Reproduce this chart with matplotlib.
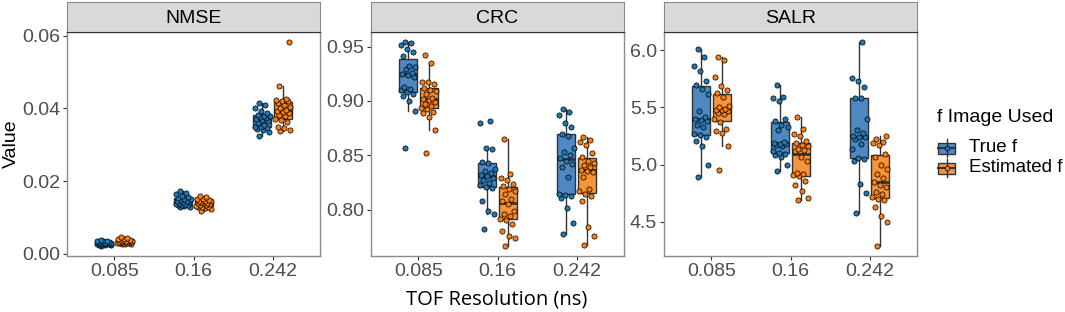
import numpy as np
import matplotlib.pyplot as plt
from matplotlib.patches import Rectangle

plt.rcParams['font.family'] = ['Liberation Sans', 'DejaVu Sans']

resolutions = ['0.085', '0.16', '0.242']
metrics = ['NMSE', 'CRC', 'SALR']
groups = ['True f', 'Estimated f']

# ---- values (one list per TOF resolution) ----
nmse_true = [
    [0.0022, 0.0023, 0.0024, 0.0025, 0.0026, 0.0026, 0.0027, 0.0027, 0.0028, 0.0028, 0.0029,
     0.0029, 0.0030, 0.0030, 0.0031, 0.0031, 0.0032, 0.0033, 0.0034, 0.0035, 0.0036, 0.0038],
    [0.0129, 0.0130, 0.0131, 0.0133, 0.0134, 0.0135, 0.0136, 0.0138, 0.0140, 0.0142, 0.0143,
     0.0145, 0.0146, 0.0148, 0.0150, 0.0152, 0.0153, 0.0155, 0.0160, 0.0165, 0.0168, 0.0174],
    [0.0323, 0.0336, 0.0340, 0.0343, 0.0345, 0.0348, 0.0350, 0.0355, 0.0360, 0.0365, 0.0368,
     0.0372, 0.0374, 0.0376, 0.0378, 0.0380, 0.0383, 0.0388, 0.0392, 0.0401, 0.0410, 0.0414],
]
nmse_est = [
    [0.0026, 0.0027, 0.0028, 0.0029, 0.0030, 0.0030, 0.0031, 0.0031, 0.0032, 0.0032, 0.0033,
     0.0033, 0.0034, 0.0034, 0.0035, 0.0036, 0.0037, 0.0038, 0.0040, 0.0042, 0.0044, 0.0046],
    [0.0117, 0.0122, 0.0125, 0.0128, 0.0129, 0.0130, 0.0131, 0.0133, 0.0135, 0.0137, 0.0139,
     0.0140, 0.0141, 0.0142, 0.0144, 0.0145, 0.0146, 0.0148, 0.0150, 0.0152, 0.0155, 0.0158],
    [0.0338, 0.0341, 0.0345, 0.0350, 0.0362, 0.0368, 0.0372, 0.0378, 0.0382, 0.0386, 0.0390,
     0.0393, 0.0396, 0.0400, 0.0405, 0.0410, 0.0416, 0.0419, 0.0421, 0.0424, 0.0426, 0.0462, 0.0582],
]
crc_true = [
    [0.857, 0.891, 0.900, 0.905, 0.906, 0.908, 0.910, 0.911, 0.913, 0.922, 0.924,
     0.925, 0.926, 0.929, 0.931, 0.932, 0.941, 0.945, 0.948, 0.951, 0.953, 0.954],
    [0.782, 0.796, 0.799, 0.808, 0.820, 0.821, 0.823, 0.825, 0.827, 0.829, 0.831,
     0.832, 0.834, 0.836, 0.838, 0.843, 0.844, 0.856, 0.857, 0.880, 0.882],
    [0.778, 0.788, 0.802, 0.811, 0.813, 0.814, 0.815, 0.830, 0.839, 0.842, 0.845,
     0.848, 0.850, 0.853, 0.857, 0.868, 0.870, 0.876, 0.880, 0.887, 0.890, 0.893],
]
crc_est = [
    [0.852, 0.873, 0.885, 0.889, 0.890, 0.893, 0.894, 0.895, 0.897, 0.899, 0.901,
     0.902, 0.903, 0.906, 0.909, 0.910, 0.912, 0.916, 0.917, 0.917, 0.935, 0.942],
    [0.767, 0.774, 0.776, 0.781, 0.787, 0.791, 0.792, 0.794, 0.796, 0.799, 0.805,
     0.808, 0.810, 0.815, 0.817, 0.819, 0.822, 0.824, 0.827, 0.829, 0.833, 0.865],
    [0.768, 0.776, 0.784, 0.808, 0.813, 0.815, 0.817, 0.819, 0.830, 0.835, 0.836,
     0.837, 0.839, 0.841, 0.843, 0.845, 0.849, 0.852, 0.860, 0.862, 0.864, 0.867],
]
salr_true = [
    [4.89, 5.00, 5.16, 5.21, 5.24, 5.26, 5.27, 5.33, 5.35, 5.38, 5.39,
     5.40, 5.42, 5.47, 5.62, 5.66, 5.70, 5.73, 5.82, 5.86, 5.94, 6.01],
    [4.94, 5.00, 5.07, 5.08, 5.09, 5.10, 5.12, 5.16, 5.17, 5.18, 5.18,
     5.19, 5.20, 5.30, 5.33, 5.35, 5.38, 5.40, 5.56, 5.58, 5.59, 5.70],
    [4.58, 4.75, 4.83, 5.03, 5.05, 5.06, 5.14, 5.18, 5.22, 5.24, 5.24,
     5.25, 5.28, 5.30, 5.40, 5.58, 5.58, 5.68, 5.73, 5.76, 6.07],
]
salr_est = [
    [4.95, 5.16, 5.28, 5.29, 5.31, 5.37, 5.40, 5.44, 5.45, 5.47, 5.48,
     5.48, 5.49, 5.50, 5.51, 5.59, 5.63, 5.65, 5.69, 5.77, 5.91, 5.94],
    [4.69, 4.71, 4.77, 4.82, 4.86, 4.90, 4.91, 4.92, 4.93, 5.03, 5.07,
     5.12, 5.13, 5.14, 5.16, 5.17, 5.19, 5.21, 5.25, 5.27, 5.31, 5.42],
    [4.29, 4.50, 4.55, 4.63, 4.69, 4.70, 4.72, 4.74, 4.76, 4.80, 4.82,
     4.85, 4.88, 4.92, 4.96, 5.00, 5.07, 5.09, 5.17, 5.19, 5.20, 5.22, 5.25],
]

panel_data = {
    'NMSE': (nmse_true, nmse_est),
    'CRC': (crc_true, crc_est),
    'SALR': (salr_true, salr_est),
}
yticks = {
    'NMSE': ([0.0, 0.02, 0.04, 0.06], '{:.2f}'),
    'CRC': ([0.80, 0.85, 0.90, 0.95], '{:.2f}'),
    'SALR': ([4.5, 5.0, 5.5, 6.0], '{:.1f}'),
}

box_colors = ['#4f88c2', '#f5963f']
point_colors = ['#1f77b4', '#ff7f0e']
offsets = [-0.13, 0.13]

W, H = 1065, 312
lefts = [67, 371, 664]
pw = 253


def jitter(n, w=0.1):
    # deterministic spread, golden ratio sequence
    return ((np.arange(n) * 0.618034 + 0.31) % 1 - 0.5) * 2 * w


fig = plt.figure(figsize=(W / 100, H / 100), dpi=100)

for k, metric in enumerate(metrics):
    ax = fig.add_axes([lefts[k] / W, 1 - 256 / H, pw / W, 224 / H])
    for g in range(2):
        data = panel_data[metric][g]
        pos = np.arange(1, 4) + offsets[g]
        ax.boxplot(data, positions=pos, widths=0.23, patch_artist=True,
                   showfliers=False, showcaps=False, manage_ticks=False,
                   boxprops=dict(facecolor=box_colors[g], edgecolor='#333333', linewidth=1),
                   whiskerprops=dict(color='#333333', linewidth=1),
                   medianprops=dict(color='#333333', linewidth=2), zorder=2)
        for i, vals in enumerate(data):
            xs = pos[i] + jitter(len(vals))
            ax.scatter(xs, vals, s=14, color=point_colors[g], edgecolor='black',
                       linewidth=0.5, zorder=3)
    ax.set_xlim(0.4, 3.6)
    ax.set_xticks([1, 2, 3])
    ax.set_xticklabels(resolutions)
    ticks, fmt = yticks[metric]
    ax.set_yticks(ticks)
    ax.set_yticklabels([fmt.format(t) for t in ticks])
    ax.tick_params(labelsize=14, labelcolor='#4d4d4d', color='#333333', length=3, width=0.8, pad=2)
    for sp in ax.spines.values():
        sp.set_color('#8a8a8a')
        sp.set_linewidth(1)

    # facet strip
    sax = fig.add_axes([lefts[k] / W, 1 - 32 / H, pw / W, 30 / H])
    sax.set_facecolor('#d9d9d9')
    sax.set_xticks([])
    sax.set_yticks([])
    for sp in sax.spines.values():
        sp.set_color('#8a8a8a')
    sax.spines['bottom'].set_color('#333333')
    sax.text(0.5, 0.45, metric, ha='center', va='center', fontsize=14, transform=sax.transAxes)

fig.text(497 / W, 1 - 299 / H, 'TOF Resolution (ns)', ha='center', va='center',
         fontsize=14.5, family=['Open Sans', 'DejaVu Sans'])
fig.text(11 / W, 1 - 144 / H, 'Value', ha='center', va='center', rotation=90, fontsize=14)

# legend drawn by hand in pixel coordinates
lax = fig.add_axes([0, 0, 1, 1])
lax.set_xlim(0, W)
lax.set_ylim(H, 0)
lax.axis('off')
lax.text(937, 118, 'f Image Used', ha='left', va='center', fontsize=14)
for g, (label, yc) in enumerate(zip(groups, [148, 168])):
    lax.plot([946.5, 946.5], [yc - 9, yc + 9], color='#333333', lw=1)
    lax.add_patch(Rectangle((938, yc - 5.5), 17, 11, facecolor=box_colors[g],
                            edgecolor='#333333', lw=1))
    lax.plot([938, 955], [yc, yc], color='#333333', lw=1.5)
    lax.scatter([946.5], [yc], s=12, color=point_colors[g], edgecolor='black', linewidth=0.5, zorder=3)
    lax.text(969, yc, label, ha='left', va='center', fontsize=13.5)

fig.savefig('out.png', dpi=100)
